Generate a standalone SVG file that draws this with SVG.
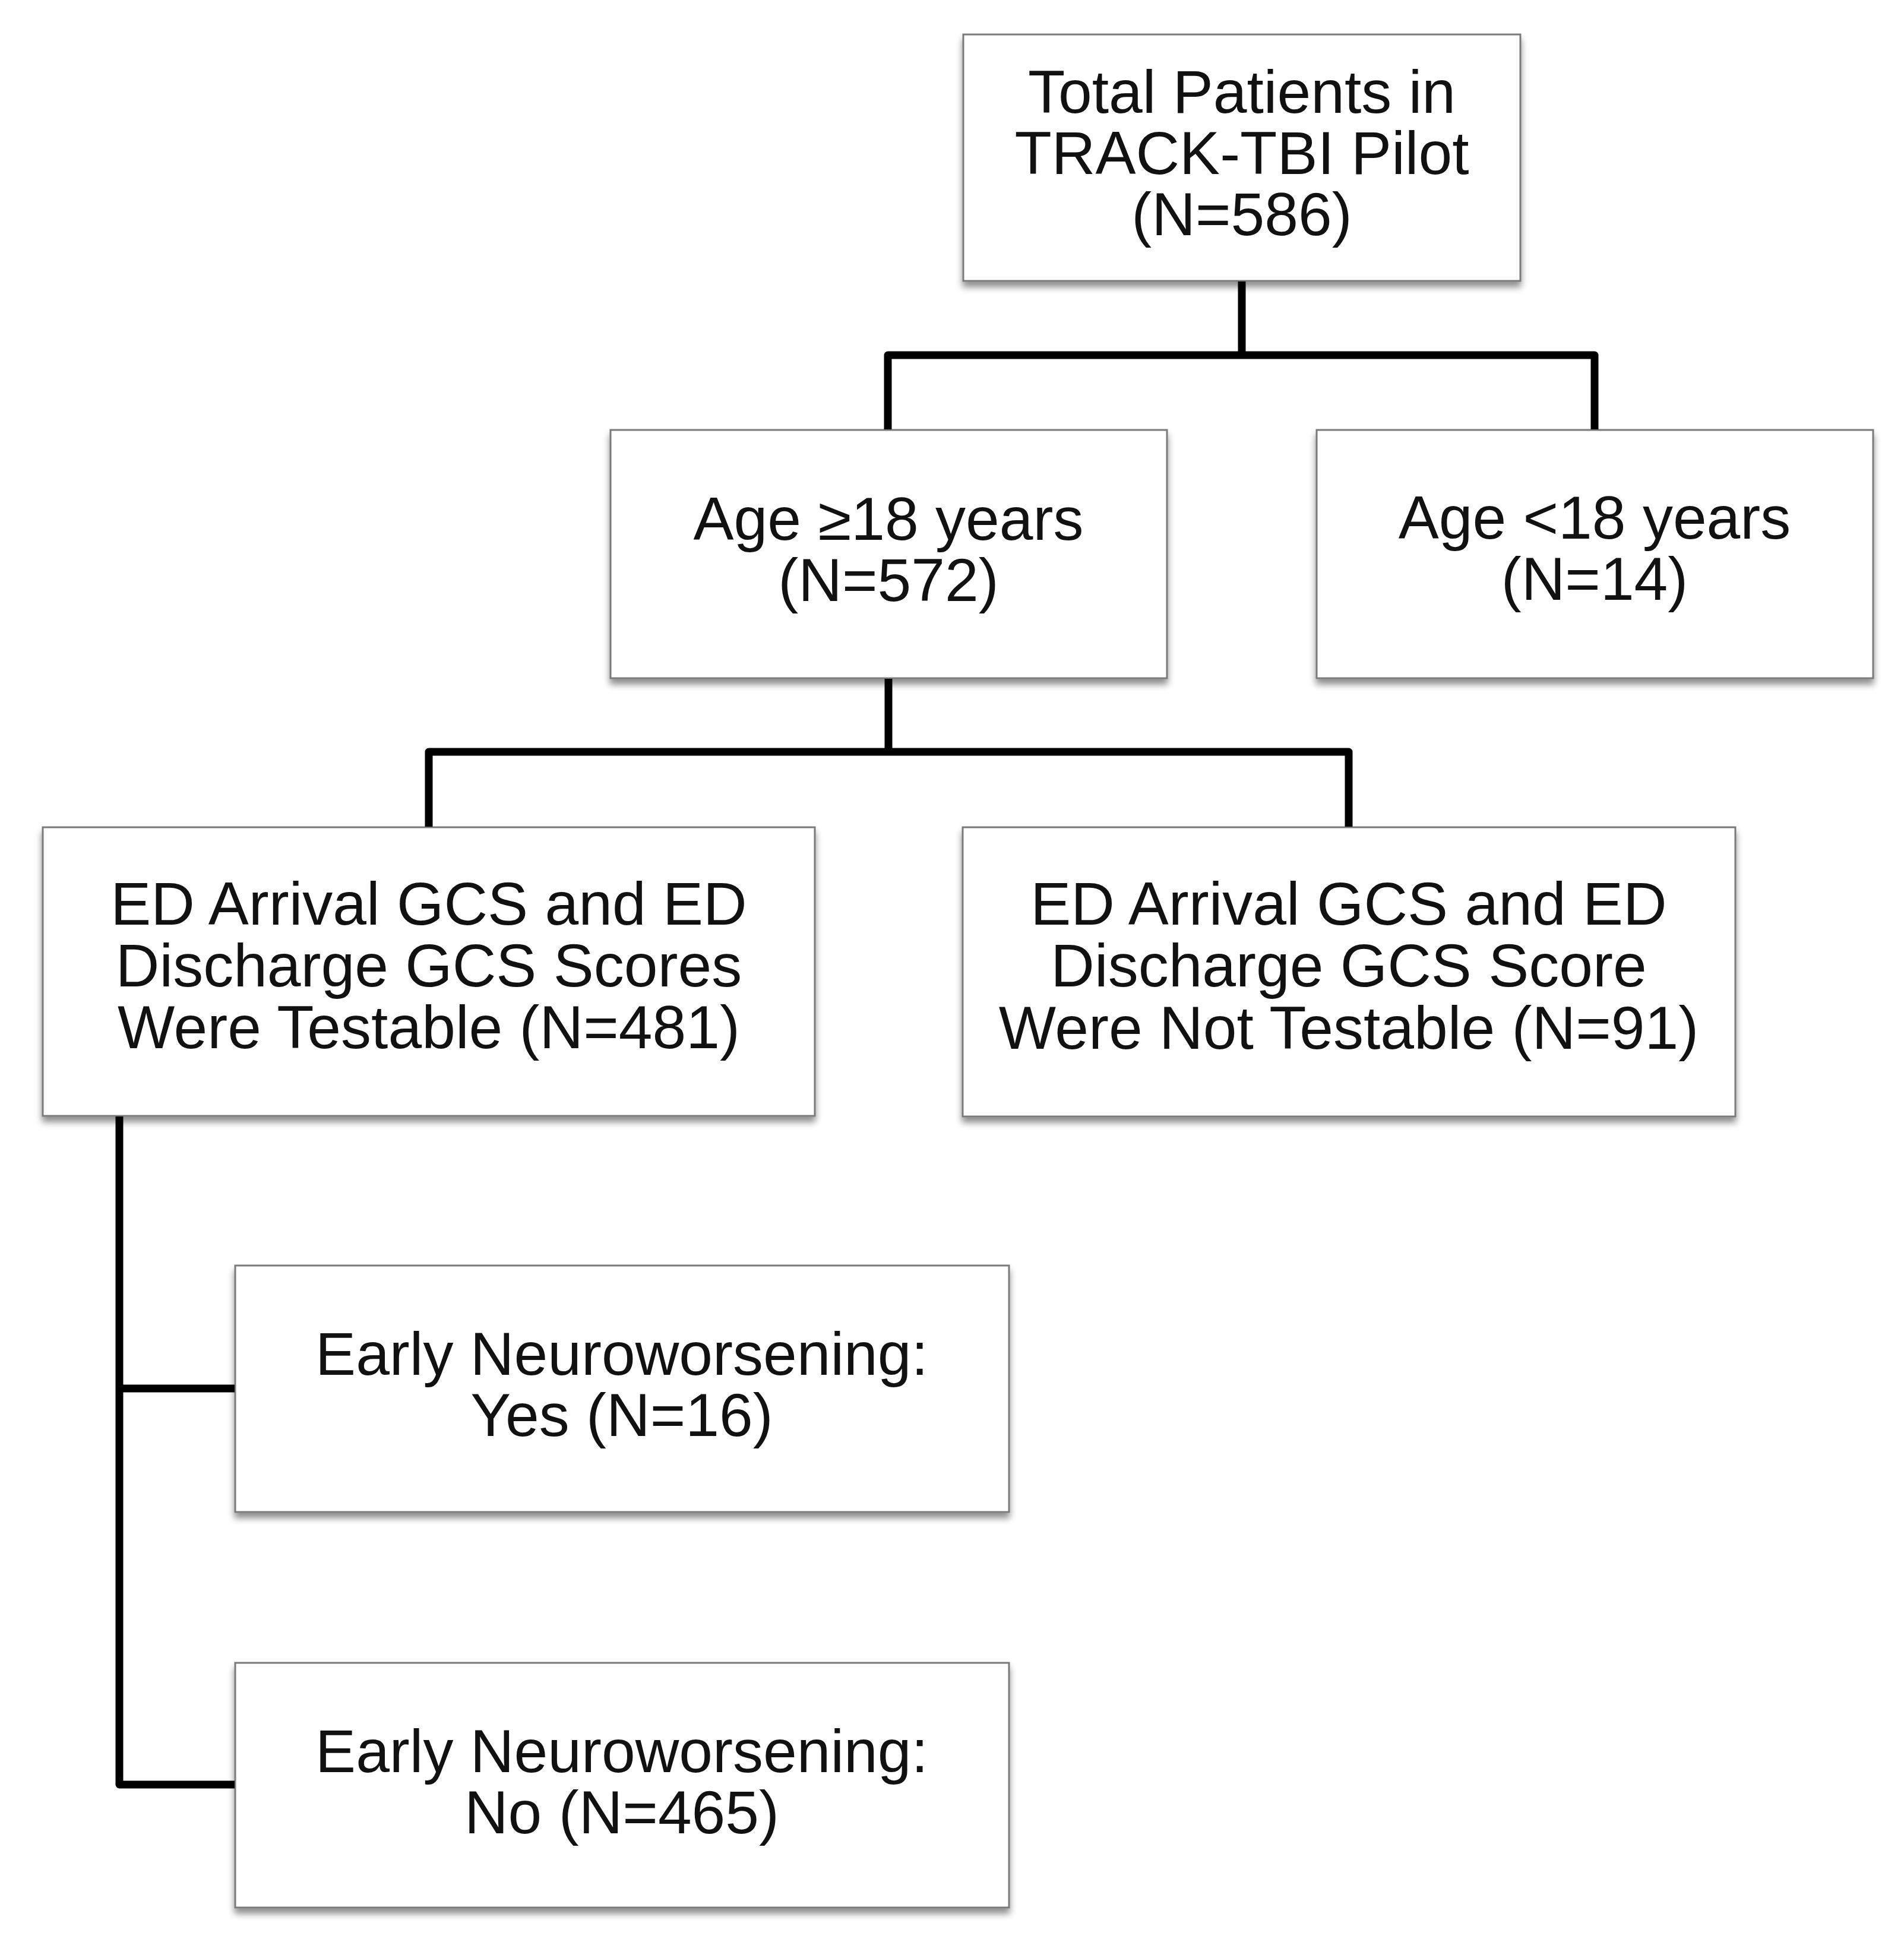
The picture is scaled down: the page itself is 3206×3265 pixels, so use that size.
<svg xmlns="http://www.w3.org/2000/svg" width="3206" height="3265" viewBox="0 0 3206 3265">
<defs>
<filter id="shadow" x="-5%" y="-5%" width="110%" height="120%">
<feGaussianBlur in="SourceAlpha" stdDeviation="6"/>
<feOffset dx="0" dy="9" result="b"/>
<feComponentTransfer><feFuncA type="linear" slope="0.45"/></feComponentTransfer>
<feMerge><feMergeNode/><feMergeNode in="SourceGraphic"/></feMerge>
</filter>
</defs>
<style>
.box{fill:#ffffff;stroke:#7a7a7a;stroke-width:3;filter:url(#shadow)}
.lbl{font-family:"Liberation Sans",Arial,Helvetica,sans-serif;font-size:102px;fill:#111111;text-anchor:middle}
.conn{fill:none;stroke:#000000;stroke-width:13;stroke-linejoin:round}
</style>
<rect width="3206" height="3265" fill="#ffffff"/>
<g id="node-total">
<rect class="box" x="1622" y="58" width="938" height="415"/>
<text class="lbl" x="2091" y="190">Total Patients in</text>
<text class="lbl" x="2091" y="293">TRACK-TBI Pilot</text>
<text class="lbl" x="2091" y="396">(N=586)</text>
</g>
<g id="node-adult">
<rect class="box" x="1028" y="724" width="937" height="418"/>
<text class="lbl" x="1496" y="909">Age ≥18 years</text>
<text class="lbl" x="1496" y="1012">(N=572)</text>
</g>
<g id="node-minor">
<rect class="box" x="2217" y="724" width="937" height="418"/>
<text class="lbl" x="2685" y="907">Age &lt;18 years</text>
<text class="lbl" x="2685" y="1010">(N=14)</text>
</g>
<g id="node-testable">
<rect class="box" x="72" y="1393" width="1300" height="486"/>
<text class="lbl" x="722" y="1557">ED Arrival GCS and ED</text>
<text class="lbl" x="722" y="1661">Discharge GCS Scores</text>
<text class="lbl" x="722" y="1765">Were Testable (N=481)</text>
</g>
<g id="node-nottestable">
<rect class="box" x="1621" y="1393" width="1301" height="487"/>
<text class="lbl" x="2271" y="1557">ED Arrival GCS and ED</text>
<text class="lbl" x="2271" y="1661">Discharge GCS Score</text>
<text class="lbl" x="2271" y="1766">Were Not Testable (N=91)</text>
</g>
<g id="node-yes">
<rect class="box" x="396" y="2131" width="1303" height="415"/>
<text class="lbl" x="1047" y="2315">Early Neuroworsening:</text>
<text class="lbl" x="1047" y="2418">Yes (N=16)</text>
</g>
<g id="node-no">
<rect class="box" x="396" y="2800" width="1303" height="412"/>
<text class="lbl" x="1047" y="2984">Early Neuroworsening:</text>
<text class="lbl" x="1047" y="3087">No (N=465)</text>
</g>
<g id="connectors">
<path class="conn" d="M2091 474 V598"/>
<path class="conn" d="M1495 723 V598 H2685 V723"/>
<path class="conn" d="M1496 1143 V1266"/>
<path class="conn" d="M722 1392 V1266 H2271 V1392"/>
<path class="conn" d="M201 1880 V3005 H395"/>
<path class="conn" d="M201 2338 H395"/>
</g>
</svg>
